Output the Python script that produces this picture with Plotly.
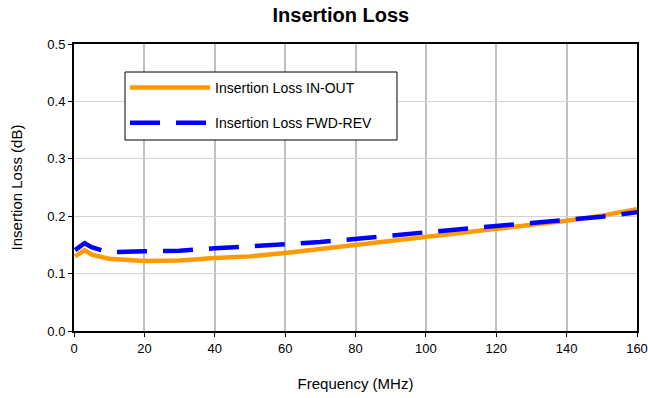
import plotly.graph_objects as go

freq = [0.3, 3, 5, 10, 20, 30, 40, 50, 60, 70, 80, 90, 100, 110, 120, 130, 140, 150, 160]
il_in_out = [0.130, 0.141, 0.133, 0.126, 0.122, 0.123, 0.127, 0.130, 0.136, 0.143, 0.150, 0.157, 0.164, 0.171, 0.178, 0.185, 0.192, 0.201, 0.212]
il_fwd_rev = [0.141, 0.153, 0.146, 0.137, 0.139, 0.140, 0.144, 0.147, 0.151, 0.155, 0.160, 0.166, 0.172, 0.178, 0.183, 0.188, 0.193, 0.199, 0.207]

x_ticks = [0, 20, 40, 60, 80, 100, 120, 140, 160]
y_ticks = [0.0, 0.1, 0.2, 0.3, 0.4, 0.5]
y_tick_labels = ["0.0", "0.1", "0.2", "0.3", "0.4", "0.5"]

font = "Liberation Sans, Arial, sans-serif"

fig = go.Figure()
fig.add_trace(go.Scatter(x=freq, y=il_in_out, mode="lines", name="Insertion Loss IN-OUT",
                         line=dict(color="#FF9900", width=4.5), legendgroup="a"))
fig.add_trace(go.Scatter(x=freq, y=il_fwd_rev, mode="lines", name="Insertion Loss FWD-REV",
                         line=dict(color="#0000FF", width=4.5, dash="30px,16px"), legendgroup="b"))

# legend frame (wider than plotly's auto-sized box)
fig.add_shape(type="rect", xref="paper", yref="paper",
              x0=0.0906, x1=0.5737, y0=0.6655, y1=0.9024,
              line=dict(color="black", width=1), fillcolor="white", layer="above")

fig.update_layout(
    width=648, height=398,
    margin=dict(l=74, r=11, t=44, b=67),
    paper_bgcolor="white", plot_bgcolor="white",
    font=dict(family=font, size=13, color="black"),
    title=dict(text="<b>Insertion Loss</b>", x=0.526, xanchor="center", y=0.962, yanchor="middle",
               font=dict(size=20, family=font)),
    showlegend=True,
    legend=dict(x=0.0906, y=0.9024, xanchor="left", yanchor="top",
                bgcolor="rgba(0,0,0,0)", borderwidth=0,
                font=dict(size=14, family=font), itemwidth=80,
                traceorder="grouped", tracegroupgap=14),
    xaxis=dict(range=[0, 160], tickvals=x_ticks, ticks="outside", ticklen=4, tickcolor="black",
               showline=True, linecolor="black", linewidth=2, mirror=True, automargin=False,
               showgrid=True, gridcolor="#c0c0c0", gridwidth=2, zeroline=False,
               title=dict(text="Frequency (MHz)", standoff=24, font=dict(size=15)),
               tickfont=dict(size=13)),
    yaxis=dict(range=[0, 0.5], tickvals=y_ticks, ticktext=y_tick_labels, ticks="outside", ticklen=4,
               tickcolor="black", showline=True, linecolor="black", linewidth=2, mirror=True,
               automargin=False,
               showgrid=True, gridcolor="#d4d4d4", gridwidth=1, zeroline=False,
               title=dict(text="Insertion Loss (dB)", standoff=21, font=dict(size=15)),
               tickfont=dict(size=13)),
)

fig.write_html("out.html")
